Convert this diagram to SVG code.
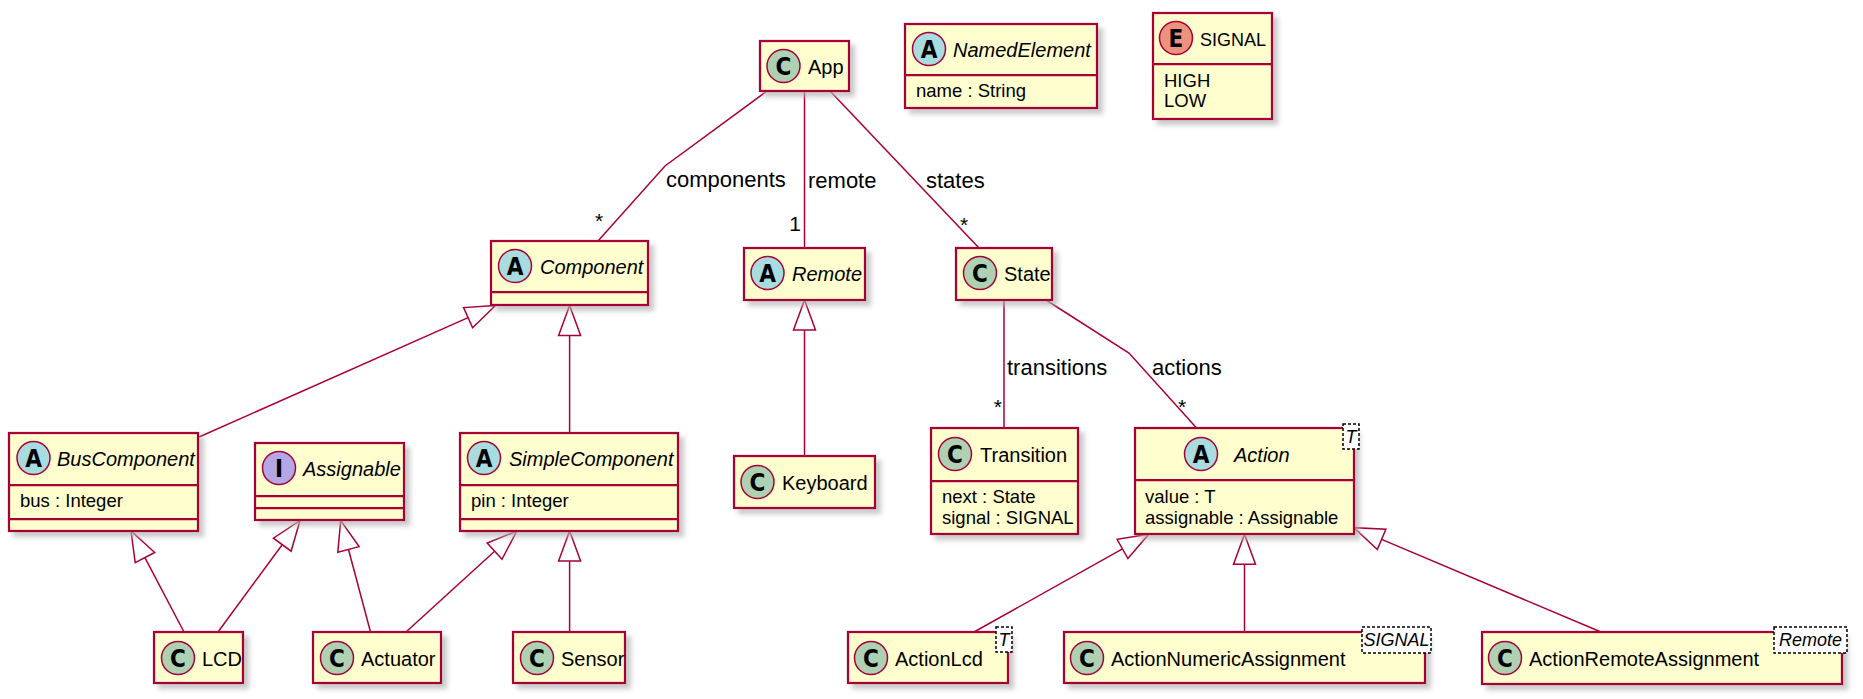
<svg xmlns="http://www.w3.org/2000/svg" width="1863" height="699" viewBox="0 0 1863 699">
<defs>
<filter id="sh" x="-10%" y="-10%" width="130%" height="140%">
<feGaussianBlur in="SourceAlpha" stdDeviation="2.5"/>
<feOffset dx="5" dy="5" result="b"/>
<feColorMatrix in="b" type="matrix" values="0 0 0 0 0.45  0 0 0 0 0.45  0 0 0 0 0.45  0 0 0 0.7 0" result="s"/>
<feMerge><feMergeNode in="s"/><feMergeNode in="SourceGraphic"/></feMerge>
</filter>
</defs>
<style>
.box{fill:#FEFECE;stroke:#A80036;stroke-width:2.25;filter:url(#sh)}
.dv{stroke:#A80036;stroke-width:2.25}
.t{font-family:"Liberation Sans",Arial,sans-serif;font-size:20px;fill:#000}
.i{font-style:italic}
.at{font-size:18.5px}
.lb{font-size:22px}
.mu{font-size:21px}
.tp{fill:#fff;stroke:#000;stroke-width:1.5;stroke-dasharray:3,2}
.tpt{font-family:"Liberation Sans",Arial,sans-serif;font-size:18px;font-style:italic;text-anchor:middle}
.cC{fill:#ADD1B2;stroke:#A80036;stroke-width:1.5}
.cA{fill:#A9DCDF;stroke:#A80036;stroke-width:1.5}
.cI{fill:#B4A7E5;stroke:#A80036;stroke-width:1.5}
.cE{fill:#EB937F;stroke:#A80036;stroke-width:1.5}
.sp{font-family:"DejaVu Sans Condensed","DejaVu Sans",sans-serif;font-weight:bold;font-size:24px;text-anchor:middle;fill:#000}
.e{stroke:#A80036;stroke-width:1.5;fill:none}
.tr{stroke:#A80036;stroke-width:1.5;fill:none}
</style>
<rect width="1863" height="699" fill="#fff"/>

<g id="connectors">
<polyline class="e" points="767,91 665,166 598,241"/>
<text class="t lb" x="666" y="187">components</text>
<text class="t mu" x="595" y="228">*</text>
<line class="e" x1="804.5" y1="91" x2="804.5" y2="248"/>
<text class="t lb" x="808" y="188">remote</text>
<text class="t mu" x="801" y="231" text-anchor="end">1</text>
<line class="e" x1="830" y1="91" x2="979" y2="248"/>
<text class="t lb" x="926" y="188">states</text>
<text class="t mu" x="960" y="232">*</text>
<line class="e" x1="1004" y1="300" x2="1004" y2="428"/>
<text class="t lb" x="1007" y="375">transitions</text>
<text class="t mu" x="1002" y="414" text-anchor="end">*</text>
<polyline class="e" points="1046,300 1129,353 1196.6,428"/>
<text class="t lb" x="1152" y="375">actions</text>
<text class="t mu" x="1178" y="414">*</text>

<line class="e" x1="468.1" y1="317.6" x2="199" y2="437"/>
<polygon class="tr" points="495.5,305.5 463.6,307.6 472.6,327.7"/>
<line class="e" x1="569.6" y1="335.5" x2="569.6" y2="433"/>
<polygon class="tr" points="569.6,305.5 558.6,335.5 580.6,335.5"/>
<line class="e" x1="804.5" y1="330" x2="804.5" y2="456"/>
<polygon class="tr" points="804.5,300 793.5,330 815.5,330"/>
<line class="e" x1="144.9" y1="557.6" x2="184" y2="632"/>
<polygon class="tr" points="131,531 135.2,562.7 154.7,552.5"/>
<line class="e" x1="282.2" y1="544.7" x2="218" y2="632"/>
<polygon class="tr" points="300,520.5 273.4,538.2 291.1,551.2"/>
<line class="e" x1="348.5" y1="549.5" x2="370.5" y2="632"/>
<polygon class="tr" points="340.7,520.5 337.8,552.3 359.1,546.6"/>
<line class="e" x1="494.6" y1="551.2" x2="406" y2="632"/>
<polygon class="tr" points="516.8,531 487.2,543.1 502,559.3"/>
<line class="e" x1="569.6" y1="561" x2="569.6" y2="632"/>
<polygon class="tr" points="569.6,531 558.6,561 580.6,561"/>
<line class="e" x1="1122.5" y1="548.9" x2="974" y2="632"/>
<polygon class="tr" points="1148.7,534.3 1117.1,539.3 1127.9,558.5"/>
<line class="e" x1="1244.5" y1="564.3" x2="1244.5" y2="632"/>
<polygon class="tr" points="1244.5,534.3 1233.5,564.3 1255.5,564.3"/>
<line class="e" x1="1381.6" y1="539.4" x2="1601" y2="632"/>
<polygon class="tr" points="1354,527.7 1377.3,549.5 1385.9,529.3"/>
</g>

<g id="App">
<rect class="box" x="760" y="41" width="89" height="50"/>
<circle class="cC" cx="783.5" cy="66" r="16.5"/>
<text class="sp" x="783.5" y="74.5">C</text>
<text class="t" x="808" y="74">App</text>
</g>

<g id="NamedElement">
<rect class="box" x="905" y="24" width="192" height="84"/>
<line class="dv" x1="905" y1="75" x2="1097" y2="75"/>
<circle class="cA" cx="929" cy="49" r="16.5"/>
<text class="sp" x="929" y="57.5">A</text>
<text class="t i" x="953" y="57">NamedElement</text>
<text class="t at" x="916" y="97">name : String</text>
</g>

<g id="SIGNAL">
<rect class="box" x="1153" y="13" width="119" height="106"/>
<line class="dv" x1="1153" y1="64" x2="1272" y2="64"/>
<circle class="cE" cx="1176" cy="38" r="16.5"/>
<text class="sp" x="1176" y="46.5">E</text>
<text class="t" x="1200" y="46" style="font-size:18px">SIGNAL</text>
<text class="t at" x="1164" y="87">HIGH</text>
<text class="t at" x="1164" y="107">LOW</text>
</g>

<g id="Component">
<rect class="box" x="491" y="241" width="157" height="64"/>
<line class="dv" x1="491" y1="292" x2="648" y2="292"/>
<circle class="cA" cx="515" cy="266" r="16.5"/>
<text class="sp" x="515" y="274.5">A</text>
<text class="t i" x="540" y="274">Component</text>
</g>

<g id="Remote">
<rect class="box" x="744" y="248" width="121" height="52"/>
<circle class="cA" cx="767.5" cy="273" r="16.5"/>
<text class="sp" x="767.5" y="281.5">A</text>
<text class="t i" x="792" y="281">Remote</text>
</g>

<g id="State">
<rect class="box" x="956" y="248" width="96" height="52"/>
<circle class="cC" cx="980" cy="273" r="16.5"/>
<text class="sp" x="980" y="281.5">C</text>
<text class="t" x="1004" y="281">State</text>
</g>

<g id="BusComponent">
<rect class="box" x="9" y="433" width="189" height="98"/>
<line class="dv" x1="9" y1="485" x2="198" y2="485"/>
<line class="dv" x1="9" y1="519" x2="198" y2="519"/>
<circle class="cA" cx="33.5" cy="458" r="16.5"/>
<text class="sp" x="33.5" y="466.5">A</text>
<text class="t i" x="57" y="466">BusComponent</text>
<text class="t at" x="20" y="507">bus : Integer</text>
</g>

<g id="Assignable">
<rect class="box" x="255" y="443" width="149" height="77"/>
<line class="dv" x1="255" y1="496" x2="404" y2="496"/>
<line class="dv" x1="255" y1="508" x2="404" y2="508"/>
<circle class="cI" cx="279" cy="468" r="16.5"/>
<text class="sp" x="279" y="476.5">I</text>
<text class="t i" x="303" y="476">Assignable</text>
</g>

<g id="SimpleComponent">
<rect class="box" x="460" y="433" width="218" height="98"/>
<line class="dv" x1="460" y1="485" x2="678" y2="485"/>
<line class="dv" x1="460" y1="519" x2="678" y2="519"/>
<circle class="cA" cx="484" cy="458" r="16.5"/>
<text class="sp" x="484" y="466.5">A</text>
<text class="t i" x="509" y="466">SimpleComponent</text>
<text class="t at" x="471" y="507">pin : Integer</text>
</g>

<g id="Keyboard">
<rect class="box" x="734" y="456" width="141" height="52"/>
<circle class="cC" cx="757.5" cy="482" r="16.5"/>
<text class="sp" x="757.5" y="490.5">C</text>
<text class="t" x="782" y="490">Keyboard</text>
</g>

<g id="Transition">
<rect class="box" x="931" y="428" width="147" height="106"/>
<line class="dv" x1="931" y1="481" x2="1078" y2="481"/>
<circle class="cC" cx="955" cy="454" r="16.5"/>
<text class="sp" x="955" y="462.5">C</text>
<text class="t" x="980" y="462">Transition</text>
<text class="t at" x="942" y="503">next : State</text>
<text class="t at" x="942" y="523.5">signal : SIGNAL</text>
</g>

<g id="Action">
<rect class="box" x="1135" y="428" width="219" height="106"/>
<line class="dv" x1="1135" y1="480" x2="1354" y2="480"/>
<circle class="cA" cx="1201" cy="454" r="16.5"/>
<text class="sp" x="1201" y="462.5">A</text>
<text class="t i" x="1234" y="462">Action</text>
<text class="t at" x="1145" y="503">value : T</text>
<text class="t at" x="1145" y="523.5">assignable : Assignable</text>
<rect class="tp" x="1343" y="424" width="16" height="25"/>
<text class="tpt" x="1351" y="443">T</text>
</g>

<g id="LCD">
<rect class="box" x="154" y="632" width="89" height="51"/>
<circle class="cC" cx="178" cy="658" r="16.5"/>
<text class="sp" x="178" y="666.5">C</text>
<text class="t" x="202" y="666">LCD</text>
</g>

<g id="Actuator">
<rect class="box" x="313" y="632" width="128" height="51"/>
<circle class="cC" cx="337" cy="658" r="16.5"/>
<text class="sp" x="337" y="666.5">C</text>
<text class="t" x="361" y="666">Actuator</text>
</g>

<g id="Sensor">
<rect class="box" x="513" y="632" width="112" height="51"/>
<circle class="cC" cx="537" cy="658" r="16.5"/>
<text class="sp" x="537" y="666.5">C</text>
<text class="t" x="561" y="666">Sensor</text>
</g>

<g id="ActionLcd">
<rect class="box" x="848" y="632" width="160" height="51"/>
<circle class="cC" cx="871" cy="658" r="16.5"/>
<text class="sp" x="871" y="666.5">C</text>
<text class="t" x="895" y="666">ActionLcd</text>
<rect class="tp" x="996" y="627" width="16" height="25"/>
<text class="tpt" x="1004" y="646">T</text>
</g>

<g id="ActionNumericAssignment">
<rect class="box" x="1064" y="632" width="361" height="51"/>
<circle class="cC" cx="1087" cy="658" r="16.5"/>
<text class="sp" x="1087" y="666.5">C</text>
<text class="t" x="1111" y="666">ActionNumericAssignment</text>
<rect class="tp" x="1362" y="627" width="69" height="26"/>
<text class="tpt" x="1396.5" y="646">SIGNAL</text>
</g>

<g id="ActionRemoteAssignment">
<rect class="box" x="1482" y="632" width="360" height="52"/>
<circle class="cC" cx="1505" cy="658" r="16.5"/>
<text class="sp" x="1505" y="666.5">C</text>
<text class="t" x="1529" y="666">ActionRemoteAssignment</text>
<rect class="tp" x="1774" y="627" width="73" height="26"/>
<text class="tpt" x="1810.5" y="646">Remote</text>
</g>
</svg>
